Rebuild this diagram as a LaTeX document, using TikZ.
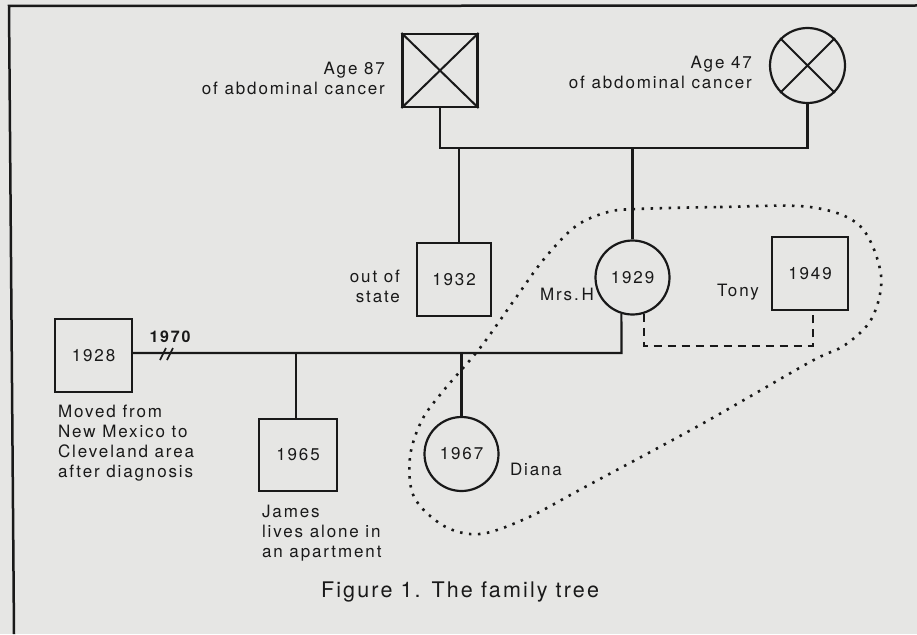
\documentclass[tikz,border=0pt]{standalone}
\usepackage{fontspec}
\setmainfont{TeX Gyre Heros}
\newfontfamily\labfont[LetterSpace=11]{TeX Gyre Heros}
\newfontfamily\capfont[LetterSpace=10]{TeX Gyre Heros}
\definecolor{ink}{RGB}{25,25,25}
\definecolor{bg}{RGB}{230,230,228}
\tikzset{
  lab/.style={font=\labfont\fontsize{17}{20}\selectfont, text=ink, inner sep=0pt},
  sq/.style={draw=ink, rectangle, minimum width=75pt, minimum height=73pt, inner sep=0pt, lab},
  circ/.style={draw=ink, circle, minimum size=74pt, inner sep=0pt, lab},
  conn/.style={draw=ink, line width=2.2pt},
  dashconn/.style={draw=ink, line width=2.2pt, dash pattern=on 8pt off 6pt},
  hull/.style={draw=ink, line width=2.6pt, dash pattern=on 2.5pt off 6.5pt},
  capstyle/.style={font=\capfont\fontsize{21.5}{25}\selectfont, text=ink, inner sep=0pt},
}
\begin{document}
\begin{tikzpicture}[x=1pt, y=-1pt, line width=2.2pt]
\useasboundingbox (0,0) rectangle (917,634);
\fill[bg] (0,0) rectangle (917,634);
% scan frame (top and left edges)
\draw[ink, line width=2.5pt] (917,5.5) -- (9,6) -- (14,634);

% grandparents
\node[sq] (fa) at (440,70.5) {};
\draw[ink, line width=2pt] (fa.north west) -- (fa.south east) (fa.north east) -- (fa.south west);
\node[circ, minimum size=75pt] (mo) at (807.5,65.5) {};
\draw[ink, line width=2pt] (mo.45) -- (mo.225) (mo.135) -- (mo.315);
\coordinate (ml) at (440,148);
\coordinate (mr) at (807.5,148);
\draw[conn] (fa) -- (ml) -- (mr) -- (mo);

% children of grandparents
\node[sq, minimum width=74pt] (c32) at (454,279.5) {1932};
\node[circ] (mrsh) at (632.5,277.5) {1929};
\coordinate (s32) at (459,148);
\coordinate (sh) at (632.5,148);
\draw[conn] (s32) -- (s32 |- c32.north);
\draw[conn] (sh) -- (mrsh);

% Tony
\node[sq, minimum width=76pt] (tony) at (810,273.5) {1949};
\coordinate (dl) at (643,346);
\coordinate (dr) at (813,346);
\draw[dashconn] (mrsh.-73) -- (mrsh.-73 |- dl) -- (dr) -- (dr |- tony.south);

% 1928 husband
\node[sq, minimum width=77pt] (h28) at (93.5,355.5) {1928};
\coordinate (jr) at (621.5,353);
\draw[conn] (h28.east |- jr) -- (jr) -- (mrsh.-107);
\draw[ink, line width=1.6pt] (160,360) -- (166,348) (167,360) -- (173,348);

% grandchildren
\node[sq, minimum width=78pt, minimum height=72pt] (james) at (298,455) {1965};
\node[circ] (diana) at (461.5,454) {1967};
\coordinate (jj) at (296,353);
\coordinate (dd) at (461.5,353);
\draw[conn] (jj) -- (jj |- james.north);
\draw[conn] (dd) -- (diana);

% dotted grouping
\draw[hull] plot[smooth cycle, tension=0.55] coordinates {
 (637,209) (720,207) (810,207) (860,226) (881,275) (872,318) (845,345) (810,362)
 (700,425) (585,487) (527,518) (480,534) (444,526) (414,497) (410,457) (422,420)
 (444,390) (480,348) (515,299) (544,259) (576,226) (608,212)};

% labels
\node[lab, anchor=east, align=right] (t87) at (386,78) {Age 87\\of abdominal cancer};
\node[lab, anchor=east, align=right] (t47) at (753,72) {Age 47\\of abdominal cancer};
\node[lab, anchor=east, align=right] (tos) at (401,286) {out of\\state};
\node[lab] (tmh) at (567,294) {Mrs.\,H};
\node[lab] (tto) at (738,292) {Tony};
\node[lab, font=\labfont\bfseries\fontsize{16}{19.5}\selectfont] (t70) at (170,337) {1970};
\node[lab, anchor=north west, align=left] (tmv) at (57,404) {Moved from\\New Mexico to\\Cleveland area\\after diagnosis};
\node[lab, anchor=north west, align=left] (tja) at (261,504) {James\\lives alone in\\an apartment};
\node[lab] (tdi) at (536,469) {Diana};
\node[capstyle] (cap) at (460,592) {Figure 1. The family tree};
\end{tikzpicture}
\end{document}
